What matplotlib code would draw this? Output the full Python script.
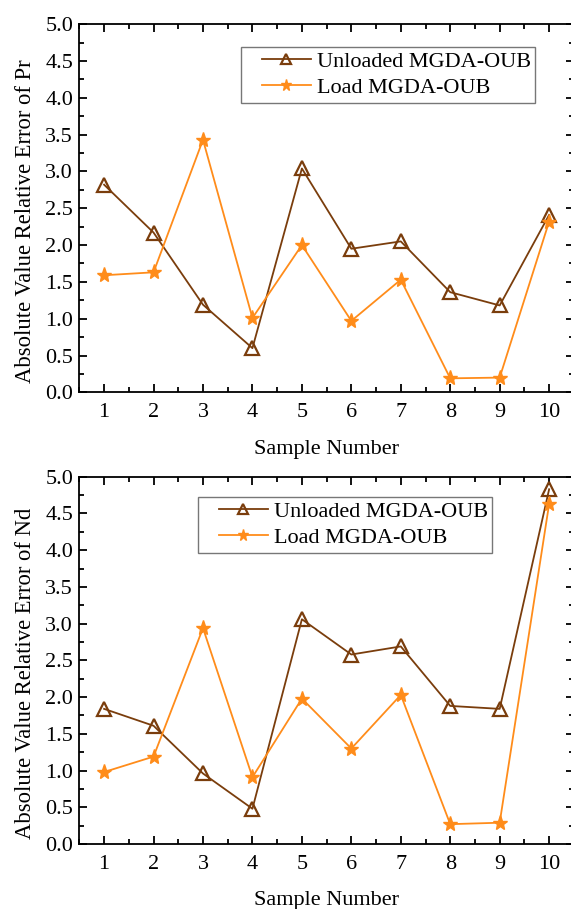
import matplotlib
matplotlib.use("Agg")
import matplotlib.pyplot as plt
from matplotlib.legend_handler import HandlerLine2D
from matplotlib.ticker import MultipleLocator

samples = [1, 2, 3, 4, 5, 6, 7, 8, 9, 10]

pr_unloaded = [2.82, 2.17, 1.19, 0.60, 3.04, 1.95, 2.05, 1.36, 1.18, 2.41]
pr_load = [1.59, 1.63, 3.43, 1.01, 2.00, 0.97, 1.53, 0.19, 0.20, 2.32]

nd_unloaded = [1.84, 1.61, 0.96, 0.48, 3.06, 2.58, 2.69, 1.88, 1.84, 4.83]
nd_load = [0.98, 1.19, 2.94, 0.91, 1.98, 1.30, 2.03, 0.27, 0.29, 4.63]

BROWN = "#7a3d0c"
ORANGE = "#ff8c1a"

plt.rcParams["font.family"] = ["Liberation Serif", "DejaVu Serif"]
plt.rcParams["font.size"] = 16


def draw_panel(ax, unloaded, load, ylabel, legend_anchor):
    l1, = ax.plot(samples, unloaded, color=BROWN, lw=1.3, marker="^", ms=9.5,
                  mfc="none", mec=BROWN, mew=1.6, label="Unloaded MGDA-OUB")
    l2, = ax.plot(samples, load, color=ORANGE, lw=1.3, marker="*", ms=11,
                  mfc=ORANGE, mec=ORANGE, label="Load MGDA-OUB")
    ax.set_xlim(0.5, 10.5)
    ax.set_ylim(0, 5.0)
    ax.xaxis.set_major_locator(MultipleLocator(1))
    ax.xaxis.set_minor_locator(MultipleLocator(0.5))
    ax.yaxis.set_major_locator(MultipleLocator(0.5))
    ax.yaxis.set_minor_locator(MultipleLocator(0.25))
    ax.yaxis.set_major_formatter(plt.FormatStrFormatter("%.1f"))
    ax.tick_params(which="both", direction="in", top=True, right=True,
                   width=1.3)
    ax.tick_params(which="major", length=6, labelsize=16)
    ax.tick_params(which="minor", length=3.5)
    ax.tick_params(axis="x", which="major", pad=8)
    ax.tick_params(axis="y", which="major", pad=4.5)
    for sp in ax.spines.values():
        sp.set_linewidth(1.3)
    ax.set_xlabel("Sample Number", fontsize=16, labelpad=12.5)
    ax.set_ylabel(ylabel, fontsize=16.3, labelpad=7)
    ax.yaxis.label.set_y(0.465)
    hmap = {l1: HandlerLine2D(xpad=0.75), l2: HandlerLine2D(xpad=0.75)}
    leg = ax.legend(loc="upper left", bbox_to_anchor=legend_anchor,
                    fontsize=16, frameon=True, fancybox=False,
                    edgecolor="#555555", borderpad=0.2, handlelength=2.95,
                    labelspacing=0.25, handletextpad=0.27, markerscale=0.75,
                    borderaxespad=0, handler_map=hmap)
    leg.get_frame().set_linewidth(1.0)


fig = plt.figure(figsize=(5.71, 9.09), dpi=100)
ax1 = fig.add_axes([0.139, 0.5684, 0.866, 0.405])
ax2 = fig.add_axes([0.139, 0.0715, 0.866, 0.404])

draw_panel(ax1, pr_unloaded, pr_load,
           "Absolute Value Relative Error of Pr", (0.326, 0.938))
draw_panel(ax2, nd_unloaded, nd_load,
           "Absolute Value Relative Error of Nd", (0.239, 0.945))

fig.savefig("out.png", dpi=100)
